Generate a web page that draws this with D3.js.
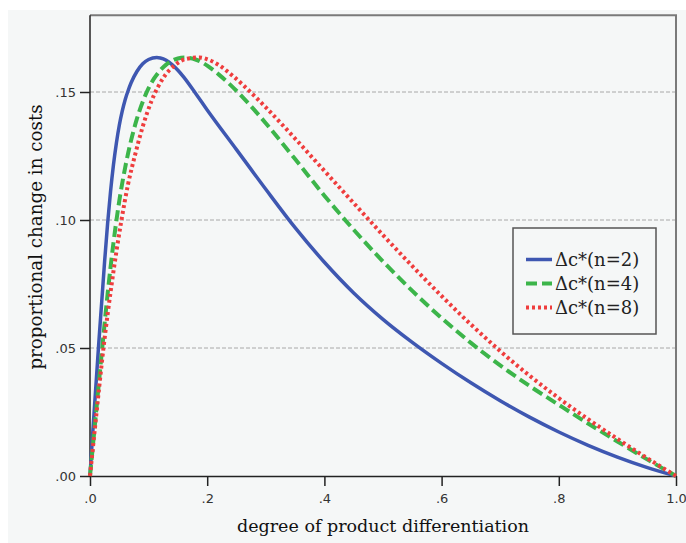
<!DOCTYPE html>
<html><head><meta charset="utf-8">
<script src="https://cdn.jsdelivr.net/npm/d3@7"></script>
<style>body{margin:0;background:#fff;} svg{display:block;}</style>
</head><body>
<svg id="chart" width="686" height="543"></svg>
<script>
// ---- data ----
const seriesNames = ["\u0394c*(n=2)", "\u0394c*(n=4)", "\u0394c*(n=8)"];
const xN2 = [0, 0.005, 0.01, 0.015, 0.02, 0.025, 0.03, 0.035, 0.04, 0.045, 0.05, 0.055, 0.06, 0.065, 0.07, 0.08, 0.09, 0.10, 0.114, 0.12, 0.13, 0.14, 0.15, 0.16, 0.18, 0.20, 0.25, 0.30, 0.35, 0.40, 0.45, 0.50, 0.55, 0.60, 0.65, 0.70, 0.75, 0.80, 0.85, 0.90, 0.95, 1.0];
const yN2 = [0, 0.018, 0.035, 0.052, 0.068, 0.084, 0.0985, 0.111, 0.1215, 0.130, 0.1370, 0.1425, 0.1470, 0.1505, 0.1535, 0.1580, 0.1610, 0.1627, 0.1635, 0.1633, 0.1624, 0.1607, 0.1585, 0.1558, 0.1495, 0.1430, 0.1275, 0.1120, 0.0970, 0.0835, 0.0715, 0.0612, 0.0522, 0.0440, 0.0364, 0.0294, 0.0230, 0.0172, 0.0120, 0.0074, 0.0034, 0];
const xN4 = [0, 0.01, 0.02, 0.03, 0.04, 0.05, 0.06, 0.07, 0.08, 0.09, 0.10, 0.11, 0.12, 0.13, 0.14, 0.15, 0.162, 0.17, 0.18, 0.19, 0.20, 0.22, 0.24, 0.26, 0.28, 0.30, 0.35, 0.40, 0.45, 0.50, 0.55, 0.60, 0.65, 0.70, 0.75, 0.80, 0.85, 0.90, 0.95, 1.0];
const yN4 = [0, 0.024, 0.048, 0.071, 0.091, 0.1075, 0.1205, 0.131, 0.1395, 0.1462, 0.1515, 0.1555, 0.1585, 0.1607, 0.1622, 0.1631, 0.1635, 0.1633, 0.1627, 0.1617, 0.1603, 0.1568, 0.1527, 0.1481, 0.1431, 0.1378, 0.1238, 0.1095, 0.0962, 0.0838, 0.0723, 0.0617, 0.0520, 0.0432, 0.0352, 0.0278, 0.0205, 0.0135, 0.0066, 0];
const xN8 = [0, 0.009, 0.023, 0.037, 0.053, 0.065, 0.077, 0.090, 0.105, 0.125, 0.145, 0.165, 0.187, 0.20, 0.22, 0.24, 0.26, 0.28, 0.30, 0.35, 0.40, 0.45, 0.50, 0.55, 0.60, 0.65, 0.70, 0.75, 0.80, 0.85, 0.90, 0.95, 1.0];
const yN8 = [0, 0.020, 0.050, 0.075, 0.099, 0.114, 0.1255, 0.1365, 0.1465, 0.1555, 0.1605, 0.1630, 0.1635, 0.1628, 0.1605, 0.1570, 0.1530, 0.1486, 0.1440, 0.1318, 0.1192, 0.1066, 0.0941, 0.0820, 0.0703, 0.0592, 0.0488, 0.0392, 0.0304, 0.0222, 0.0145, 0.0071, 0];
const xTicks = [0, 0.2, 0.4, 0.6, 0.8, 1.0];
const yTicks = [0, 0.05, 0.10, 0.15];
const xTitle = "degree of product differentiation";
const yTitle = "proportional change in costs";

// ---- layout ----
const W = 686, H = 543;
const L = 90, R = 676, T = 15.2, B = 476;
const bg = "#f5f7f7";
const svg = d3.select("#chart");

svg.append("rect").attr("x", 8).attr("y", 10).attr("width", W - 8).attr("height", H - 10).attr("fill", bg);

const x = d3.scaleLinear().domain([0, 1]).range([L, R]);
const y = d3.scaleLinear().domain([0, 0.18]).range([B, T]);

// gridlines
svg.append("g").selectAll("line").data(yTicks.filter(d => d > 0)).join("line")
  .attr("x1", L).attr("x2", R).attr("y1", d => y(d)).attr("y2", d => y(d))
  .attr("stroke", "#a8a8a8").attr("stroke-width", 1).attr("stroke-dasharray", "4,2");

// frame top & right
svg.append("line").attr("x1", L).attr("x2", R + 1).attr("y1", T).attr("y2", T)
  .attr("stroke", "#7a7a7a").attr("stroke-width", 2);
svg.append("line").attr("x1", R).attr("x2", R).attr("y1", T).attr("y2", B)
  .attr("stroke", "#7a7a7a").attr("stroke-width", 2);

// axes
const fmtY = d => d3.format(".2f")(d).replace(/^0/, "");
const fmtX = d => d3.format(".1f")(d).replace(/^0/, "");
const yAxis = svg.append("g").attr("transform", `translate(${L},0)`)
  .call(d3.axisLeft(y).tickValues(yTicks).tickFormat(fmtY).tickSize(10).tickSizeOuter(0).tickPadding(4));
const xAxis = svg.append("g").attr("transform", `translate(0,${B})`)
  .call(d3.axisBottom(x).tickValues(xTicks).tickFormat(fmtX).tickSize(10).tickSizeOuter(0).tickPadding(8));
[yAxis, xAxis].forEach(g => {
  g.select(".domain").attr("stroke", "#222").attr("stroke-width", 1.5);
  g.selectAll(".tick line").attr("stroke", "#222").attr("stroke-width", 1.5);
  g.selectAll(".tick text").attr("fill", "#333").style("font-family", "DejaVu Sans").style("font-size", "13px");
});
yAxis.select(".domain").attr("d", `M0,${T}V${B}`);

// lines
const styles = [
  {color: "#3e57b1", width: 3.5, dash: null},
  {color: "#3cb54a", width: 4, dash: "11,5"},
  {color: "#ef3d3d", width: 4, dash: "3,3"}
];
const data = [d3.zip(xN2, yN2), d3.zip(xN4, yN4), d3.zip(xN8, yN8)];
const line = d3.line().x(d => x(d[0])).y(d => y(d[1])).curve(d3.curveMonotoneX);
data.forEach((s, i) => {
  svg.append("path").attr("d", line(s)).attr("fill", "none")
    .attr("stroke", styles[i].color).attr("stroke-width", styles[i].width)
    .attr("stroke-dasharray", styles[i].dash);
});

// legend
const lg = svg.append("g");
lg.append("rect").attr("x", 513).attr("y", 228).attr("width", 143).attr("height", 106)
  .attr("fill", bg).attr("stroke", "#555").attr("stroke-width", 1.5);
seriesNames.forEach((n, i) => {
  const yy = 259.5 + i * 24;
  lg.append("line").attr("x1", 526).attr("x2", 552).attr("y1", yy).attr("y2", yy)
    .attr("stroke", styles[i].color).attr("stroke-width", styles[i].width)
    .attr("stroke-dasharray", styles[i].dash);
  lg.append("text").attr("x", 555).attr("y", yy + 6).text(n)
    .attr("fill", "#222").style("font-family", "DejaVu Serif").style("font-size", "18px");
});

// titles
svg.append("text").attr("x", (L + R) / 2).attr("y", 532).attr("text-anchor", "middle")
  .text(xTitle).attr("fill", "#111").style("font-family", "DejaVu Serif").style("font-size", "17.5px");
svg.append("text").attr("transform", `translate(42,237) rotate(-90)`).attr("text-anchor", "middle")
  .text(yTitle).attr("fill", "#111").style("font-family", "DejaVu Serif").style("font-size", "18.3px");
</script>
</body></html>
